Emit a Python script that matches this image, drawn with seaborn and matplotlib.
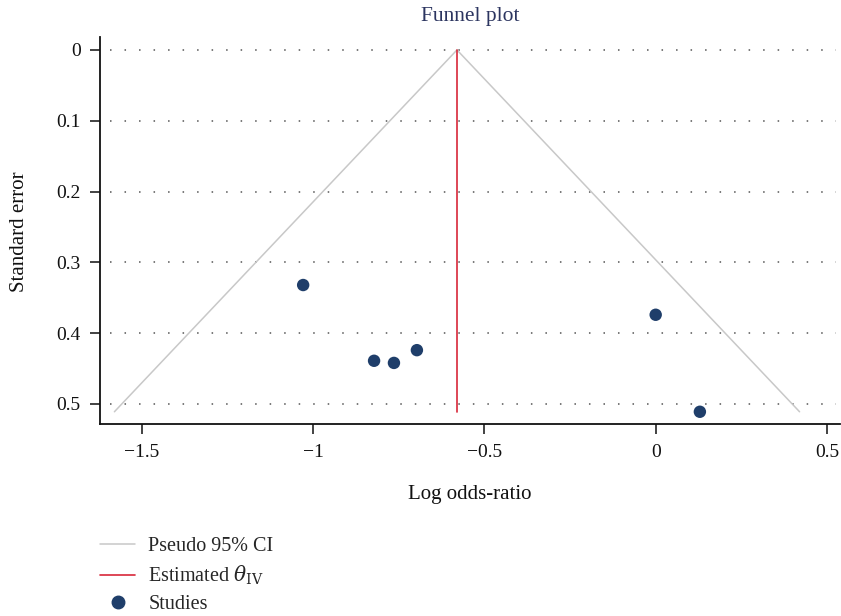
import matplotlib
matplotlib.use("Agg")
import matplotlib.pyplot as plt
from matplotlib.lines import Line2D
import seaborn as sns
import pandas as pd

# Data
log_or = [-1.029, -0.822, -0.764, -0.697, 0.0, 0.129]
std_err = [0.332, 0.439, 0.442, 0.424, 0.374, 0.511]
theta_iv = -0.58
se_max = 0.511
funnel_x = [-1.58, -0.58, 0.42]
funnel_se = [0.511, 0.0, 0.511]
x_ticks = [-1.5, -1.0, -0.5, 0.0, 0.5]
x_labels = ["\u22121.5", "\u22121", "\u22120.5", "0", "0.5"]
y_ticks = [0.0, 0.1, 0.2, 0.3, 0.4, 0.5]
y_labels = ["0", "0.1", "0.2", "0.3", "0.4", "0.5"]

sns.set_style("white")
plt.rcParams["font.family"] = ["Liberation Serif", "DejaVu Serif"]
plt.rcParams["mathtext.fontset"] = "dejavuserif"

fig = plt.figure(figsize=(8.41, 6.16), dpi=100)
W, H = 841, 616
ax = fig.add_axes([100 / W, 1 - 424.3 / H, 740 / W, (424.3 - 36.7) / H])

df_pts = pd.DataFrame({"x": log_or, "se": std_err})
df_fun = pd.DataFrame({"x": funnel_x, "se": funnel_se})

# dotted gridlines
for yt in y_ticks:
    ax.axhline(yt, xmin=0.014, xmax=0.995, color="#555555", linestyle=(0, (1, 8.5)),
               linewidth=1.1, zorder=1)

ax.plot(df_fun["x"], df_fun["se"], color="#c8c8c8", linewidth=1.1, zorder=2)
ax.plot([theta_iv, theta_iv], [0, se_max], color="#d8283a", linewidth=1.2, zorder=3)
sns.scatterplot(data=df_pts, x="x", y="se", ax=ax, color="#1f3e6a", s=80,
                edgecolor="none", zorder=4, legend=False)

ax.set_xlim(-1.622, 0.538)
ax.set_ylim(0.5287, -0.0187)
ax.set_xticks(x_ticks)
ax.set_xticklabels(x_labels)
ax.set_yticks(y_ticks)
ax.set_yticklabels(y_labels)
ax.tick_params(axis="both", direction="out", length=7, width=1.2, color="#222222",
               labelsize=14, labelcolor="#111111", pad=7, left=True, bottom=True)
for s in ["top", "right"]:
    ax.spines[s].set_visible(False)
for s in ["left", "bottom"]:
    ax.spines[s].set_color("#111111")
    ax.spines[s].set_linewidth(1.3)

ax.set_xlabel("")
ax.set_ylabel("")
fig.text(470 / W, 1 - 495 / H, "Log odds-ratio", ha="center", va="center",
         fontsize=15, color="#111111")
fig.text(20 / W, 1 - 232 / H, "Standard error", ha="center", va="center",
         rotation=90, fontsize=15, color="#111111")
fig.text(470 / W, 1 - 16 / H, "Funnel plot", ha="center", va="center",
         fontsize=15.5, color="#2c3560")

handles = [
    Line2D([], [], color="#c8c8c8", linewidth=1.1),
    Line2D([], [], color="#d8283a", linewidth=1.2),
    Line2D([], [], color="#1f3e6a", marker="o", linestyle="none", markersize=9),
]
labels = ["Pseudo 95% CI", r"Estimated $\theta_{\mathrm{IV}}$", "Studies"]
fig.legend(handles, labels, loc="upper left", bbox_to_anchor=(92 / W, 1 - 529 / H),
           frameon=False, fontsize=14.5, handlelength=1.75, handletextpad=0.65,
           labelspacing=0.38, borderaxespad=0)

fig.savefig("out.png", dpi=100)
